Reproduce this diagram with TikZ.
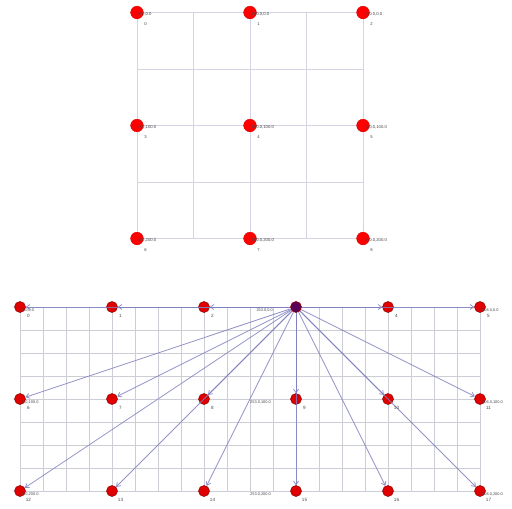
\documentclass[tikz,border=0pt]{standalone}
\usepackage{fontspec}
\setmainfont{Liberation Sans}
\usetikzlibrary{arrows.meta}
\definecolor{tgridc}{HTML}{D4D4E2}
\definecolor{bgridc}{HTML}{CDCDD6}
\definecolor{edgec}{HTML}{8080C0}
\definecolor{txtc}{HTML}{484848}
\tikzset{
  tgrid/.style={draw=tgridc, line width=0.8pt},
  bgrid/.style={draw=bgridc, line width=0.8pt},
  tnode/.style={circle, fill=red, draw=red!80!black, line width=0.3pt, minimum size=12.8pt, inner sep=0pt},
  bnode/.style={circle, fill=red!88!black, draw=red!55!black, line width=0.5pt, minimum size=11pt, inner sep=0pt},
  selnode/.style={circle, fill=violet!70!black, draw=red!60!black, line width=0.6pt, minimum size=11pt, inner sep=0pt},
  coordlbl/.style={font=\fontsize{4.2}{5}\selectfont, text=txtc, inner sep=0pt, anchor=west},
  coordlblb/.style={font=\fontsize{3.9}{5}\selectfont, text=txtc, inner sep=0pt},
  idxlbl/.style={font=\fontsize{4.2}{5}\selectfont, text=txtc, inner sep=0pt},
  idxlblb/.style={font=\fontsize{4.6}{5}\selectfont, text=txtc, inner sep=0pt},
  edge/.style={draw=edgec, line width=0.8pt, opacity=0.85, -{Straight Barb[length=3.5pt,width=5pt]}}
}
\begin{document}
\begin{tikzpicture}[x=1pt,y=-1pt]
\useasboundingbox[fill=white] (0,0) rectangle (512,509);
% ---------- top grid ----------
\foreach \gx in {137,193.5,250,306.5,363} \draw[tgrid] (\gx,12.5) -- (\gx,238.5);
\foreach \gy in {12.5,69,125.5,182,238.5} \draw[tgrid] (137,\gy) -- (363,\gy);
% top nodes
\foreach \i/\px/\py in {0/137/12.5,1/250/12.5,2/363/12.5,
  3/137/125.5,4/250/125.5,5/363/125.5,
  6/137/238.5,7/250/238.5,8/363/238.5}{
  \node[tnode] (t\i) at (\px,\py) {};
}
\foreach \i/\px/\py/\lbl in {0/137/12.5/{0.0,0.0},1/250/12.5/{100.0,0.0},2/363/12.5/{200.0,0.0},
  3/137/125.5/{0.0,100.0},4/250/125.5/{100.0,100.0},5/363/125.5/{200.0,100.0},
  6/137/238.5/{0.0,200.0},7/250/238.5/{100.0,200.0},8/363/238.5/{200.0,200.0}}{
  \node[coordlbl] (tc\i) at (\px+1.5,\py+1.8) {\lbl};
  \node[idxlbl] (ti\i) at (\px+8.5,\py+11.5) {\i};
}
% ---------- bottom grid ----------
\foreach \k in {0,...,20} \draw[bgrid] (20+23*\k,307) -- (20+23*\k,491);
\foreach \k in {0,...,8} \draw[bgrid] (20,307+23*\k) -- (480,307+23*\k);
% bottom nodes
\foreach \r in {0,1,2}{
  \foreach \c in {0,...,5}{
    \pgfmathtruncatemacro{\n}{6*\r+\c}
    \ifnum\n=3
      \node[selnode] (b\n) at (20+92*\c,307+92*\r) {};
    \else
      \node[bnode] (b\n) at (20+92*\c,307+92*\r) {};
    \fi
  }
}
% edges from node 3
\foreach \t in {2,1,0,4,5,6,7,8,9,10,11,12,13,14,15,16,17} \draw[edge] (b3) -- (b\t);
% coordinate labels
\node[coordlblb, anchor=west] (bc0) at (22,310) {0.0,0.0};
\node[coordlblb, anchor=east] (bc3) at (273,310) {253.0,0.0};
\node[coordlblb, anchor=west] (bc5) at (482,310) {506.0,0.0};
\node[coordlblb, anchor=west] (bc6) at (22,402) {0.0,100.0};
\node[coordlblb, anchor=east] (bc9) at (271,402) {253.0,100.0};
\node[coordlblb, anchor=west] (bc11) at (482,402) {506.0,100.0};
\node[coordlblb, anchor=west] (bc12) at (22,494) {0.0,200.0};
\node[coordlblb, anchor=east] (bc15) at (271,494) {253.0,200.0};
\node[coordlblb, anchor=west] (bc17) at (482,494) {506.0,200.0};
% index labels
\foreach \r in {0,1,2}{
  \foreach \c in {0,...,5}{
    \pgfmathtruncatemacro{\n}{6*\r+\c}
    \ifnum\n=3\else
      \node[idxlblb] (bi\n) at (20+92*\c+8.5,307+92*\r+8.5) {\n};
    \fi
  }
}
\end{tikzpicture}
\end{document}
